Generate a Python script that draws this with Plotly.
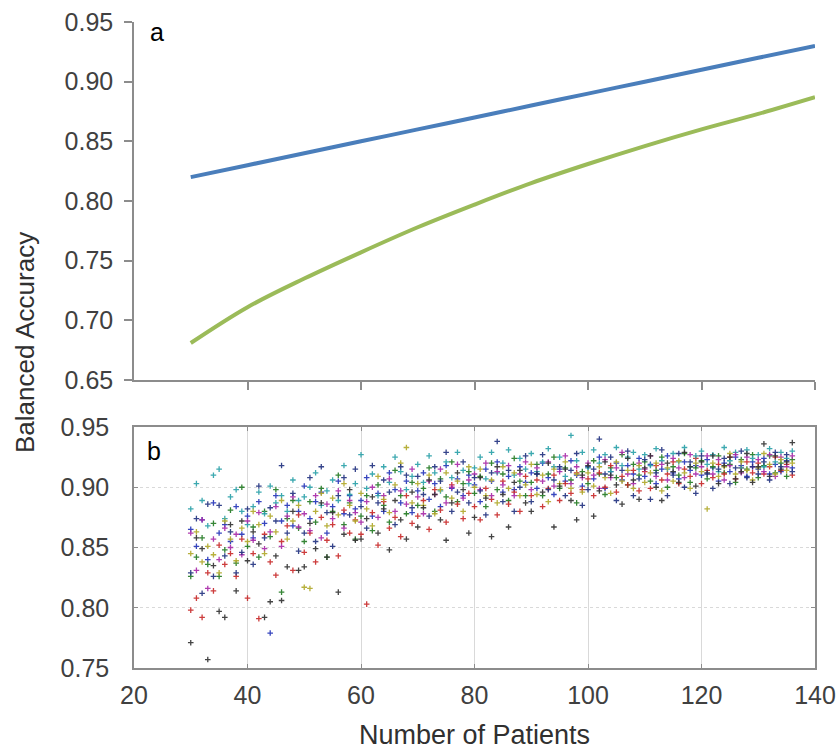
import plotly.graph_objects as go

# ---------------- Panel a: fitted curves ----------------
X_LINE = [30, 40, 50, 60, 70, 80, 90, 100, 110, 120, 130, 140]
BLUE_LINE = [0.820, 0.830, 0.840, 0.850, 0.860, 0.870, 0.880, 0.890, 0.900, 0.910, 0.920, 0.930]
GREEN_LINE = [0.681, 0.711, 0.735, 0.757, 0.778, 0.797, 0.815, 0.831, 0.846, 0.860, 0.873, 0.887]

# ---------------- Panel b: scatter (x = number of patients 30..136) ----------------
X_PTS = list(range(30, 137))

S1 = [0.865, 0.851, 0.873, 0.840, 0.887, 0.862, 0.869, 0.855, 0.884, 0.861,
      0.876, 0.858, 0.888, 0.870, 0.779, 0.893, 0.872, 0.885, 0.868, 0.880,
      0.901, 0.874, 0.888, 0.896, 0.862, 0.884, 0.905, 0.878, 0.893, 0.882,
      0.889, 0.908, 0.876, 0.895, 0.880, 0.912, 0.898, 0.887, 0.905, 0.879,
      0.897, 0.912, 0.890, 0.903, 0.884, 0.918, 0.899, 0.907, 0.893, 0.910,
      0.902, 0.888, 0.915, 0.905, 0.921, 0.896, 0.909, 0.898, 0.917, 0.904,
      0.912, 0.899, 0.920, 0.908, 0.894, 0.915, 0.905, 0.922, 0.910, 0.901,
      0.917, 0.907, 0.925, 0.899, 0.913, 0.920, 0.906, 0.918, 0.911, 0.924,
      0.909, 0.919, 0.903, 0.915, 0.926, 0.912, 0.907, 0.921, 0.914, 0.918,
      0.910, 0.923, 0.916, 0.905, 0.920, 0.913, 0.925, 0.918, 0.909, 0.921,
      0.915, 0.924, 0.911, 0.919, 0.913, 0.922, 0.916]
S2 = [0.826, 0.842, 0.858, 0.836, 0.870, 0.826, 0.848, 0.881, 0.837, 0.900,
      0.851, 0.867, 0.842, 0.880, 0.859, 0.898, 0.813, 0.874, 0.889, 0.866,
      0.855, 0.888, 0.871, 0.899, 0.842, 0.880, 0.910, 0.869, 0.887, 0.857,
      0.876, 0.893, 0.864, 0.902, 0.885, 0.871, 0.914, 0.893, 0.878, 0.904,
      0.885, 0.899, 0.916, 0.880, 0.907, 0.892, 0.921, 0.888, 0.903, 0.913,
      0.895, 0.909, 0.884, 0.920, 0.898, 0.911, 0.889, 0.924, 0.905, 0.893,
      0.904, 0.919, 0.893, 0.911, 0.925, 0.899, 0.916, 0.906, 0.887, 0.913,
      0.903, 0.922, 0.911, 0.894, 0.916, 0.908, 0.927, 0.902, 0.919, 0.910,
      0.921, 0.905, 0.914, 0.925, 0.900, 0.917, 0.910, 0.928, 0.904, 0.916,
      0.922, 0.907, 0.917, 0.926, 0.912, 0.919, 0.904, 0.923, 0.915, 0.927,
      0.908, 0.918, 0.926, 0.912, 0.920, 0.909, 0.923]
S3 = [0.798, 0.808, 0.792, 0.829, 0.814, 0.852, 0.836, 0.845, 0.826, 0.857,
      0.808, 0.845, 0.791, 0.861, 0.838, 0.827, 0.855, 0.868, 0.831, 0.877,
      0.846, 0.862, 0.838, 0.875, 0.856, 0.869, 0.843, 0.881, 0.862, 0.873,
      0.861, 0.803, 0.879, 0.852, 0.888, 0.866, 0.875, 0.859, 0.893, 0.870,
      0.876, 0.889, 0.865, 0.898, 0.881, 0.871, 0.902, 0.886, 0.874, 0.895,
      0.884, 0.873, 0.899, 0.890, 0.877, 0.905, 0.886, 0.896, 0.880, 0.909,
      0.893, 0.906, 0.884, 0.899, 0.910, 0.889, 0.903, 0.895, 0.912, 0.898,
      0.907, 0.893, 0.912, 0.900, 0.918, 0.896, 0.909, 0.902, 0.914, 0.897,
      0.913, 0.899, 0.918, 0.906, 0.911, 0.921, 0.903, 0.915, 0.909, 0.924,
      0.903, 0.914, 0.908, 0.919, 0.911, 0.925, 0.907, 0.916, 0.921, 0.912,
      0.920, 0.911, 0.917, 0.925, 0.914, 0.919, 0.910]
S4 = [0.882, 0.903, 0.889, 0.868, 0.910, 0.915, 0.874, 0.892, 0.898, 0.880,
      0.869, 0.884, 0.896, 0.878, 0.901, 0.887, 0.893, 0.880, 0.906, 0.889,
      0.892, 0.900, 0.912, 0.885, 0.897, 0.906, 0.889, 0.918, 0.894, 0.903,
      0.927, 0.899, 0.911, 0.893, 0.917, 0.904, 0.925, 0.913, 0.898, 0.909,
      0.919, 0.904, 0.926, 0.912, 0.897, 0.921, 0.908, 0.929, 0.914, 0.903,
      0.916, 0.925, 0.907, 0.929, 0.912, 0.920, 0.931, 0.910, 0.924, 0.915,
      0.928, 0.913, 0.921, 0.932, 0.917, 0.925, 0.909, 0.943, 0.922, 0.929,
      0.916, 0.931, 0.920, 0.927, 0.913, 0.933, 0.918, 0.925, 0.929, 0.915,
      0.927, 0.918, 0.932, 0.922, 0.915, 0.928, 0.921, 0.933, 0.917, 0.926,
      0.930, 0.919, 0.927, 0.913, 0.933, 0.922, 0.929, 0.916, 0.931, 0.924,
      0.927, 0.917, 0.932, 0.921, 0.929, 0.924, 0.930]
S5 = [0.862, 0.831, 0.873, 0.816, 0.857, 0.840, 0.866, 0.850, 0.861, 0.844,
      0.872, 0.856, 0.879, 0.849, 0.863, 0.884, 0.851, 0.876, 0.892, 0.867,
      0.878, 0.864, 0.893, 0.858, 0.886, 0.874, 0.897, 0.866, 0.889, 0.879,
      0.871, 0.888, 0.900, 0.875, 0.893, 0.907, 0.880, 0.897, 0.886, 0.915,
      0.892, 0.878, 0.905, 0.894, 0.915, 0.887, 0.900, 0.919, 0.891, 0.906,
      0.911, 0.898, 0.920, 0.893, 0.913, 0.902, 0.918, 0.893, 0.911, 0.921,
      0.898, 0.916, 0.905, 0.921, 0.901, 0.913, 0.926, 0.903, 0.917, 0.908,
      0.920, 0.910, 0.899, 0.923, 0.908, 0.916, 0.929, 0.911, 0.903, 0.920,
      0.915, 0.926, 0.909, 0.919, 0.906, 0.924, 0.916, 0.908, 0.927, 0.911,
      0.917, 0.926, 0.911, 0.923, 0.906, 0.918, 0.927, 0.912, 0.925, 0.917,
      0.923, 0.913, 0.927, 0.909, 0.925, 0.917, 0.926]
S6 = [0.845, 0.863, 0.838, 0.851, 0.844, 0.829, 0.872, 0.857, 0.839, 0.866,
      0.855, 0.880, 0.869, 0.845, 0.876, 0.863, 0.889, 0.857, 0.872, 0.885,
      0.817, 0.816, 0.880, 0.895, 0.868, 0.891, 0.877, 0.903, 0.885, 0.872,
      0.895, 0.882, 0.868, 0.909, 0.890, 0.879, 0.902, 0.920, 0.933, 0.887,
      0.903, 0.885, 0.910, 0.878, 0.898, 0.912, 0.891, 0.905, 0.880, 0.917,
      0.900, 0.915, 0.893, 0.906, 0.887, 0.917, 0.899, 0.912, 0.893, 0.902,
      0.919, 0.894, 0.910, 0.888, 0.915, 0.903, 0.921, 0.899, 0.911, 0.896,
      0.912, 0.901, 0.917, 0.908, 0.895, 0.921, 0.905, 0.914, 0.899, 0.918,
      0.904, 0.912, 0.920, 0.897, 0.916, 0.905, 0.922, 0.912, 0.899, 0.920,
      0.913, 0.882, 0.920, 0.909, 0.917, 0.928, 0.911, 0.921, 0.914, 0.906,
      0.916, 0.928, 0.919, 0.911, 0.923, 0.914, 0.920]
S7 = [0.771, 0.858, 0.849, 0.757, 0.835, 0.797, 0.792, 0.869, 0.814, 0.872,
      0.839, 0.863, 0.853, 0.792, 0.805, 0.843, 0.806, 0.834, 0.880, 0.831,
      0.834, 0.870, 0.849, 0.887, 0.842, 0.879, 0.813, 0.861, 0.898, 0.856,
      0.857, 0.874, 0.892, 0.862, 0.882, 0.848, 0.889, 0.873, 0.857, 0.896,
      0.867, 0.883, 0.906, 0.894, 0.873, 0.856, 0.887, 0.912, 0.898, 0.862,
      0.875, 0.908, 0.891, 0.859, 0.917, 0.894, 0.867, 0.904, 0.914, 0.887,
      0.880, 0.911, 0.896, 0.920, 0.867, 0.901, 0.915, 0.889, 0.873, 0.910,
      0.918, 0.876, 0.897, 0.921, 0.910, 0.902, 0.886, 0.924, 0.906, 0.890,
      0.916, 0.926, 0.900, 0.889, 0.920, 0.913, 0.904, 0.929, 0.917, 0.901,
      0.921, 0.912, 0.926, 0.903, 0.918, 0.925, 0.907, 0.913, 0.928, 0.904,
      0.917, 0.936, 0.909, 0.926, 0.915, 0.921, 0.937]
S8 = [0.829, 0.874, 0.812, 0.886, 0.826, 0.885, 0.843, 0.863, 0.829, 0.846,
      0.882, 0.836, 0.901, 0.858, 0.883, 0.872, 0.918, 0.862, 0.895, 0.847,
      0.862, 0.908, 0.855, 0.917, 0.879, 0.851, 0.893, 0.908, 0.877, 0.915,
      0.884, 0.866, 0.918, 0.887, 0.906, 0.896, 0.869, 0.917, 0.910, 0.883,
      0.909, 0.894, 0.876, 0.917, 0.905, 0.929, 0.880, 0.896, 0.921, 0.887,
      0.908, 0.897, 0.877, 0.912, 0.938, 0.888, 0.914, 0.880, 0.900, 0.926,
      0.888, 0.911, 0.927, 0.898, 0.906, 0.917, 0.893, 0.914, 0.928, 0.885,
      0.898, 0.915, 0.940, 0.911, 0.925, 0.889, 0.914, 0.930, 0.893, 0.907,
      0.923, 0.890, 0.912, 0.931, 0.893, 0.910, 0.928, 0.900, 0.921, 0.895,
      0.926, 0.911, 0.899, 0.915, 0.924, 0.903, 0.916, 0.930, 0.908, 0.917,
      0.911, 0.921, 0.906, 0.929, 0.917, 0.927, 0.913]

SERIES = [S1, S2, S3, S4, S5, S6, S7, S8]
SERIES_COLORS = ["#2232b8", "#217a21", "#c82828", "#28a0a8", "#a828a8", "#b0a828", "#303030", "#20307f"]

Y_TICKS_A = [0.65, 0.70, 0.75, 0.80, 0.85, 0.90, 0.95]
Y_TICKS_B = [0.75, 0.80, 0.85, 0.90, 0.95]
X_TICKS = [20, 40, 60, 80, 100, 120, 140]

W, H = 836, 752
FONT = "Liberation Sans, Arial, sans-serif"
AXIS_GRAY = "#8c8c8c"
LABEL_GRAY = "#404040"
TICK_SIZE = 25


def px(p):
    return p / W


def py(p):
    return 1 - p / H


fig = go.Figure()

fig.add_trace(go.Scatter(x=X_LINE, y=BLUE_LINE, mode="lines", line=dict(color="#4a7ebb", width=4, shape="spline"),
                         xaxis="x", yaxis="y", showlegend=False))
fig.add_trace(go.Scatter(x=X_LINE, y=GREEN_LINE, mode="lines", line=dict(color="#9bbb59", width=4, shape="spline"),
                         xaxis="x", yaxis="y", showlegend=False))

for s, c in zip(SERIES, SERIES_COLORS):
    fig.add_trace(go.Scatter(x=X_PTS, y=s, mode="markers", xaxis="x2", yaxis="y2", showlegend=False,
                             marker=dict(symbol="cross-thin", size=4, color=c, opacity=0.9,
                                         line=dict(color=c, width=1.3))))

x0, x1 = px(134), px(815)
fig.update_layout(
    width=W, height=H,
    margin=dict(l=0, r=0, t=0, b=0),
    paper_bgcolor="white", plot_bgcolor="white",
    font=dict(family=FONT, color=LABEL_GRAY, size=TICK_SIZE),
    xaxis=dict(domain=[x0, x1], range=[20, 140], tickvals=X_TICKS[1:], showticklabels=False,
               ticks="outside", ticklen=8, tickcolor=AXIS_GRAY, tickwidth=1.5,
               showline=True, linecolor=AXIS_GRAY, linewidth=1.5, showgrid=False, zeroline=False,
               anchor="y", automargin=False),
    yaxis=dict(domain=[py(380), py(22)], range=[0.65, 0.95], tickvals=Y_TICKS_A, tickformat=".2f",
               ticks="outside", ticklen=8, tickcolor=AXIS_GRAY, tickwidth=1.5,
               showline=True, linecolor=AXIS_GRAY, linewidth=1.5, showgrid=False, zeroline=False,
               anchor="x", automargin=False, ticklabelstandoff=6, ticklabeloverflow="allow",
               tickfont=dict(size=TICK_SIZE, color=LABEL_GRAY)),
    xaxis2=dict(domain=[x0, x1], range=[20, 140], tickvals=X_TICKS,
                ticks="inside", ticklen=4, tickcolor=AXIS_GRAY,
                showline=True, mirror="ticks", linecolor=AXIS_GRAY, linewidth=1.5,
                showgrid=True, gridcolor="#d9d9d9", gridwidth=1, zeroline=False,
                anchor="y2", automargin=False, ticklabelstandoff=4, ticklabeloverflow="allow",
                tickfont=dict(size=TICK_SIZE, color=LABEL_GRAY)),
    yaxis2=dict(domain=[py(668), py(427)], range=[0.75, 0.95], tickvals=Y_TICKS_B, tickformat=".2f",
                ticks="inside", ticklen=4, tickcolor=AXIS_GRAY,
                showline=True, mirror="ticks", linecolor=AXIS_GRAY, linewidth=1.5,
                showgrid=True, gridcolor="#d9d9d9", griddash="dot", gridwidth=1, zeroline=False,
                anchor="x2", automargin=False, ticklabelstandoff=18, ticklabeloverflow="allow",
                tickfont=dict(size=TICK_SIZE, color=LABEL_GRAY)),
    annotations=[
        dict(text="Balanced Accuracy", x=px(25), y=py(343), xref="paper", yref="paper",
             textangle=-90, showarrow=False, font=dict(size=26, color="#303030"),
             xanchor="center", yanchor="middle"),
        dict(text="Number of Patients", x=px(474), y=py(735), xref="paper", yref="paper",
             showarrow=False, font=dict(size=27, color="#303030"), xanchor="center", yanchor="middle"),
        dict(text="a", x=px(157), y=py(32), xref="paper", yref="paper", showarrow=False,
             font=dict(size=25, color="black"), xanchor="center", yanchor="middle"),
        dict(text="b", x=px(154), y=py(451), xref="paper", yref="paper", showarrow=False,
             font=dict(size=25, color="black"), xanchor="center", yanchor="middle"),
    ],
)

# remove the browser's default 8 px body margin so the figure fills the window exactly
fig.write_html("out.html", config={"displayModeBar": False},
               post_script="document.body.style.margin='0';document.body.style.overflow='hidden';")
